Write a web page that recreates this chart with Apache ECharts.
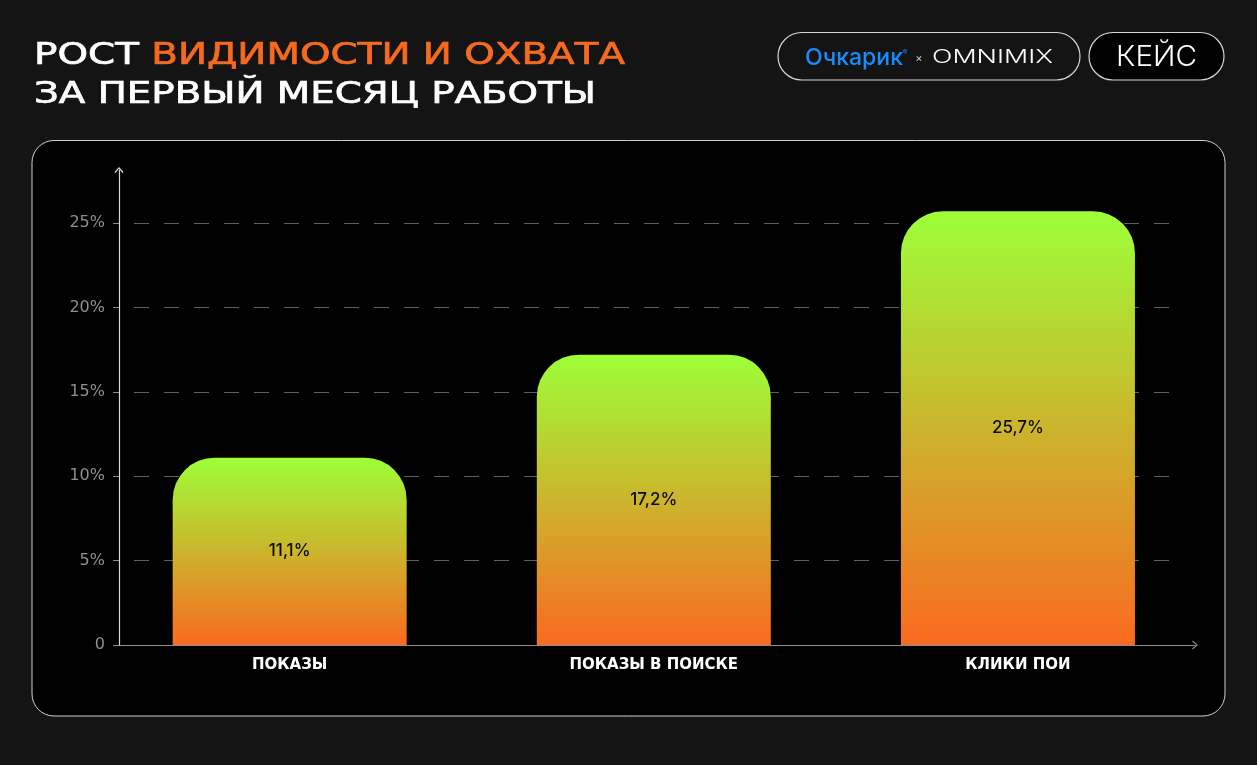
<!DOCTYPE html>
<html>
<head>
<meta charset="utf-8">
<style>
  html, body { margin: 0; padding: 0; background: #141414; }
  #chart { width: 1257px; height: 765px; }
</style>
<script src="https://cdn.jsdelivr.net/npm/echarts@6/dist/echarts.min.js"></script>
</head>
<body>
<div id="chart"></div>
<script>
// ---- data ----
const categories = ['ПОКАЗЫ', 'ПОКАЗЫ В ПОИСКЕ', 'КЛИКИ ПОИ'];
const values = [11.1, 17.2, 25.7];
const yMin = 0;
const yMax = 25;
const yInterval = 5;
const titleLine1White = 'РОСТ ';
const titleLine1Orange = 'ВИДИМОСТИ И ОХВАТА';
const titleLine2 = 'ЗА ПЕРВЫЙ МЕСЯЦ РАБОТЫ';
const brandLogo = 'Очкарик';
const brandPartner = 'OMNIMIX';
const badgeText = 'КЕЙС';

// ---- helpers ----
const mctx = document.createElement('canvas').getContext('2d');
function measure(text, font) { mctx.font = font; return mctx.measureText(text).width; }
function fit(text, font, target) { return target / measure(text, font); }

const TF = '"DejaVu Sans"';
const titleFont = '30px ' + TF;
const s1 = fit(titleLine1White + titleLine1Orange, titleFont, 591);
const s2 = fit(titleLine2, titleFont, 562);
const logoFont = '500 23px Inter';
const sLogo = fit(brandLogo, logoFont, 98);
const omniFont = '300 19px Inter';
const sOmni = fit(brandPartner, omniFont, 121);
const badgeFont = '300 28px Inter';
const sBadge = fit(badgeText, badgeFont, 81);

const arrowPath = 'path://M0,5 L4.5,0 L9,5 L8,5.8 L4.5,1.6 L1,5.8 Z';

const chart = echarts.init(document.getElementById('chart'));
chart.setOption({
  backgroundColor: '#141414',
  animation: false,
  graphic: [
    { type: 'rect', z: -10, shape: { x: 32, y: 140.5, width: 1193, height: 575.5, r: 22 },
      style: { fill: '#000', stroke: '#cfcfcf', lineWidth: 1 } },
    { type: 'rect', z: -10, shape: { x: 778, y: 32.5, width: 302, height: 47.5, r: 23.75 },
      style: { fill: '#141414', stroke: '#d6d6d6', lineWidth: 1.2 } },
    { type: 'rect', z: -10, shape: { x: 1089, y: 32.5, width: 135, height: 47.5, r: 23.75 },
      style: { fill: '#000', stroke: '#d6d6d6', lineWidth: 1.2 } },
    { type: 'text', x: 34, y: 56, scaleX: s1,
      style: { text: '{w|' + titleLine1White + '}{o|' + titleLine1Orange + '}',
        font: titleFont, align: 'left', verticalAlign: 'middle',
        rich: { w: { fill: '#ffffff', stroke: '#ffffff', lineWidth: 0.7, fontSize: 30, fontFamily: 'DejaVu Sans' },
                o: { fill: '#f56a1f', stroke: '#f56a1f', lineWidth: 0.7, fontSize: 30, fontFamily: 'DejaVu Sans' } } } },
    { type: 'text', x: 34, y: 95, scaleX: s2,
      style: { text: titleLine2, font: titleFont, fill: '#ffffff', stroke: '#ffffff', lineWidth: 0.7,
        align: 'left', verticalAlign: 'middle' } },
    { type: 'text', x: 854, y: 58, scaleX: sLogo,
      style: { text: brandLogo, font: logoFont, fill: '#1a8cff', align: 'center', verticalAlign: 'middle' } },
    { type: 'text', x: 905, y: 53,
      style: { text: '®', font: '7px Inter', fill: '#1a8cff', align: 'center', verticalAlign: 'middle' } },
    { type: 'text', x: 919, y: 59,
      style: { text: '×', font: '11px Inter', fill: '#cccccc', align: 'center', verticalAlign: 'middle' } },
    { type: 'text', x: 992.5, y: 57, scaleX: sOmni,
      style: { text: brandPartner, font: omniFont, fill: '#ffffff', align: 'center', verticalAlign: 'middle' } },
    { type: 'text', x: 1156.5, y: 58, scaleX: sBadge,
      style: { text: badgeText, font: badgeFont, fill: '#ffffff', align: 'center', verticalAlign: 'middle' } }
  ],
  grid: [
    { left: 107.6, right: 57, top: 223, bottom: 120 },   // bars
    { left: 119, right: 85, top: 223, bottom: 120 },     // gridlines + y labels
    { left: 119, right: 62, top: 170, bottom: 120 }      // axis lines with arrows
  ],
  xAxis: [
    { gridIndex: 0, type: 'category', data: categories,
      axisLine: { show: false }, axisTick: { show: false }, splitLine: { show: false },
      axisLabel: { color: '#ffffff', fontWeight: 'bold', fontSize: 15, fontFamily: 'DejaVu Sans', margin: 13 } },
    { gridIndex: 1, type: 'value', show: false, min: 0, max: 1 },
    { gridIndex: 2, type: 'value', min: 0, max: 1, z: 5,
      axisLabel: { show: false }, axisTick: { show: false }, splitLine: { show: false },
      axisLine: { show: true, symbol: ['none', arrowPath], symbolSize: [9, 5.8],
        lineStyle: { color: 'rgba(255,255,255,0.56)', width: 1.2 } } }
  ],
  yAxis: [
    { gridIndex: 0, type: 'value', min: yMin, max: yMax, show: false },
    { gridIndex: 1, type: 'value', min: yMin, max: yMax, interval: yInterval,
      axisLine: { show: false },
      axisTick: { show: true, length: 6, lineStyle: { color: '#8a8a8a' } },
      axisLabel: { color: '#8f8f8f', fontSize: 16, fontFamily: 'DejaVu Sans', margin: 14,
        formatter: v => v === 0 ? '0' : v + '%' },
      splitLine: { show: true, showMinLine: false,
        lineStyle: { color: '#5e5e5e', width: 1, type: [15, 15], dashOffset: 15 } } },
    { gridIndex: 2, type: 'value', min: 0, max: 1, z: 5,
      axisLabel: { show: false }, axisTick: { show: false }, splitLine: { show: false },
      axisLine: { show: true, symbol: ['none', arrowPath], symbolSize: [9, 5.8],
        lineStyle: { color: '#d8d8d8', width: 1.2 } } }
  ],
  series: [{
    type: 'bar',
    xAxisIndex: 0, yAxisIndex: 0,
    data: values,
    barWidth: 234,
    clip: false,
    z: 2,
    itemStyle: {
      borderRadius: [42, 42, 0, 0],
      color: new echarts.graphic.LinearGradient(0, 0, 0, 1, [
        { offset: 0, color: '#9dff38' },
        { offset: 1, color: '#fa6a20' }
      ])
    },
    label: {
      show: true, position: 'inside', color: '#0a0a0a', fontSize: 17, fontFamily: 'Inter', fontWeight: 500,
      formatter: p => String(p.value).replace('.', ',') + '%'
    }
  }]
});
</script>
</body>
</html>
